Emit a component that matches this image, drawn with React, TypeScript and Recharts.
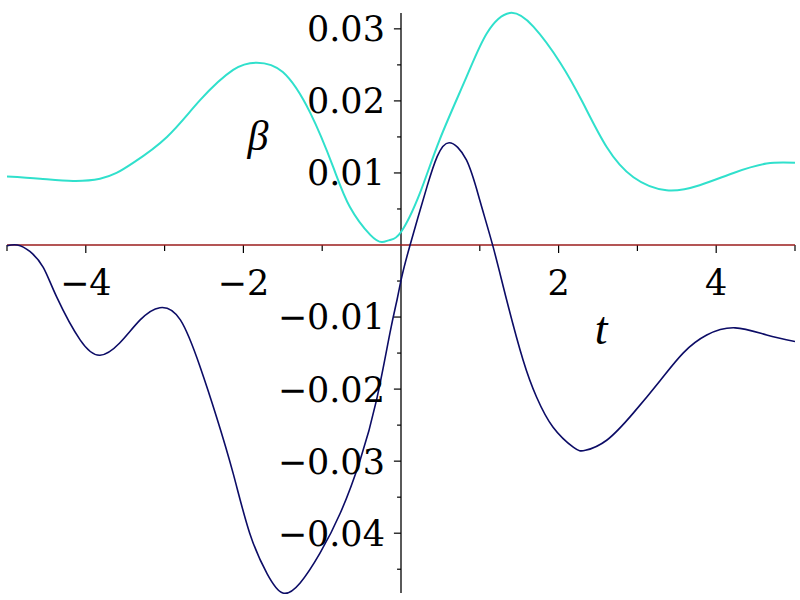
import { Line, LineChart, ReferenceDot, ReferenceLine, XAxis, YAxis } from "recharts";

// curve samples (t, value)
const navyT = [-5, -4.87, -4.71, -4.54, -4.37, -4.07, -3.82, -3.57, -3.31, -3.06, -2.8, -2.55, -2.34, -2.13, -1.92, -1.7, -1.5, -1.28, -1.03, -0.77, -0.52, -0.31, -0.14, -0.05, 0, 0.11, 0.33, 0.46, 0.61, 0.83, 1.0, 1.17, 1.34, 1.55, 1.72, 1.93, 2.19, 2.34, 2.61, 2.95, 3.29, 3.58, 3.88, 4.24, 4.64, 5];
const navyV = [-0.0001, 0, -0.0009, -0.0031, -0.0072, -0.0132, -0.0153, -0.0136, -0.0104, -0.0087, -0.0104, -0.0169, -0.0239, -0.0317, -0.04, -0.0456, -0.0483, -0.0469, -0.0428, -0.0372, -0.0299, -0.0215, -0.0122, -0.0076, -0.0049, -0.0002, 0.0081, 0.0123, 0.0142, 0.0118, 0.0062, -0.0003, -0.0076, -0.016, -0.0211, -0.0253, -0.0281, -0.0285, -0.0271, -0.0233, -0.0188, -0.015, -0.0125, -0.0115, -0.0125, -0.0134];

const cyanT = [-5, -4.58, -4.16, -3.82, -3.61, -3.4, -2.97, -2.55, -2.13, -1.83, -1.5, -1.15, -0.86, -0.65, -0.39, -0.24, -0.14, 0, 0.24, 0.49, 0.83, 1.09, 1.38, 1.68, 2.02, 2.31, 2.61, 2.95, 3.37, 3.79, 4.22, 4.64, 5];
const cyanV = [0.0095, 0.0092, 0.0089, 0.0092, 0.01, 0.0114, 0.015, 0.0201, 0.0243, 0.0253, 0.024, 0.0183, 0.0108, 0.0053, 0.0014, 0.0004, 0.0007, 0.0018, 0.0072, 0.0146, 0.0233, 0.0294, 0.0322, 0.0303, 0.0253, 0.0197, 0.0136, 0.0094, 0.0076, 0.0083, 0.01, 0.0113, 0.0114];

const zeroT = [-5, 5];
const zeroV = [0, 0];

const xDomain = [-5, 5];
const yDomain = [-0.0483, 0.0322];

const xTicks = [-5, -4, -3, -2, -1, 1, 2, 3, 4, 5];
const xLabelled = [-4, -2, 2, 4];
const yTicks = [0.03, 0.025, 0.02, 0.015, 0.01, 0.005, -0.005, -0.01, -0.015, -0.02, -0.025, -0.03, -0.035, -0.04, -0.045];
const yLabelled = [0.03, 0.02, 0.01, -0.01, -0.02, -0.03, -0.04];

const font = "DejaVu Serif";

const zip = (ts: number[], vs: number[]) => ts.map((t, i) => ({ t, v: vs[i] }));

const fmt = (v: number, digits: number) => (v < 0 ? "\u2212" + Math.abs(v).toFixed(digits) : v.toFixed(digits));

export default function App() {
  return (
    <div style={{ position: "absolute", left: 0, top: 0, width: 800, height: 600, background: "#fff" }}>
      <LineChart width={800} height={600} margin={{ top: 13, right: 5, bottom: 7, left: 7 }}>
        <XAxis type="number" dataKey="t" domain={xDomain} hide allowDataOverflow />
        <YAxis type="number" dataKey="v" domain={yDomain} hide />

        <ReferenceLine x={0} stroke="#000" strokeWidth={1.3} />

        {xTicks.map((t) => {
          const major = xLabelled.includes(t);
          return (
            <ReferenceLine
              key={"xt" + t}
              segment={[{ x: t, y: 0 }, { x: t, y: major ? -0.00112 : -0.00085 }]}
              stroke="#000"
              strokeWidth={1.2}
              ifOverflow="visible"
              label={
                major
                  ? { value: fmt(t, 0), position: "bottom", offset: 17, fill: "#000", fontSize: 35, fontFamily: font }
                  : undefined
              }
            />
          );
        })}

        {yTicks.map((v) => {
          const major = yLabelled.includes(v);
          return (
            <ReferenceLine
              key={"yt" + v}
              segment={[{ x: major ? -0.09 : -0.05, y: v }, { x: 0, y: v }]}
              stroke="#000"
              strokeWidth={1.2}
              ifOverflow="visible"
              label={
                major
                  ? { value: fmt(v, 2), position: "left", offset: 9, fill: "#000", fontSize: 35, fontFamily: font }
                  : undefined
              }
            />
          );
        })}

        <Line data={zip(zeroT, zeroV)} dataKey="v" stroke="#9b1c1c" strokeWidth={1.6} dot={false} isAnimationActive={false} />
        <Line data={zip(navyT, navyV)} dataKey="v" type="natural" stroke="#0c0c66" strokeWidth={1.6} dot={false} isAnimationActive={false} />
        <Line data={zip(cyanT, cyanV)} dataKey="v" type="natural" stroke="#30e0cc" strokeWidth={2} dot={false} isAnimationActive={false} />

        <ReferenceDot
          x={-1.815}
          y={0.0152}
          r={0}
          fillOpacity={0}
          strokeOpacity={0}
          label={{ value: "\u03b2", position: "center", fill: "#000", fontSize: 42, fontStyle: "italic", fontFamily: "Liberation Serif" }}
        />
        <ReferenceDot
          x={2.54}
          y={-0.0115}
          r={0}
          fillOpacity={0}
          strokeOpacity={0}
          label={{ value: "t", position: "center", fill: "#000", fontSize: 46, fontStyle: "italic", fontFamily: "Liberation Serif" }}
        />
      </LineChart>
    </div>
  );
}
